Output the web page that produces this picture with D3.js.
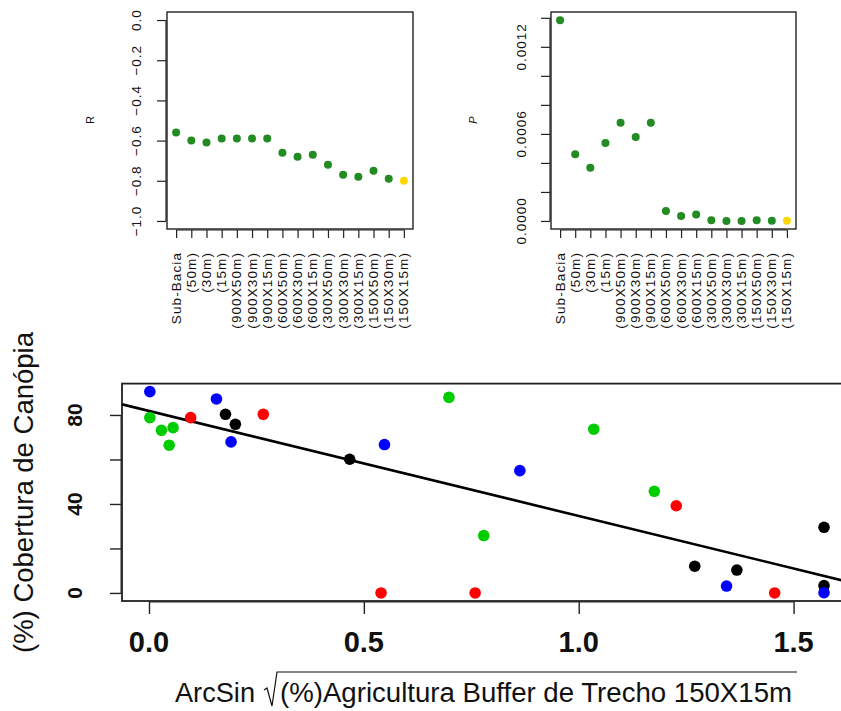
<!DOCTYPE html>
<html><head><meta charset="utf-8">
<script src="https://cdn.jsdelivr.net/npm/d3@7"></script>
<style>body{margin:0;background:#fff}svg{display:block;font-family:"Liberation Sans",Arial,sans-serif}</style>
</head><body><svg id="c" width="841" height="711"></svg>
<script>
const scaleLabels = ["Sub-Bacia","(50m)","(30m)","(15m)","(900X50m)","(900X30m)","(900X15m)","(600X50m)","(600X30m)","(600X15m)","(300X50m)","(300X30m)","(300X15m)","(150X50m)","(150X30m)","(150X15m)"];
const rValues = [-0.56,-0.60,-0.61,-0.59,-0.59,-0.59,-0.59,-0.66,-0.68,-0.67,-0.72,-0.77,-0.78,-0.75,-0.79,-0.80];
const pValues = [0.001384,0.00046,0.000366,0.000538,0.000676,0.000579,0.000676,0.000069,0.000034,0.000044,0.000005,0.0000005,0.0000005,0.000005,0.000001,0.000001];
const rTicks = [0.0,-0.2,-0.4,-0.6,-0.8,-1.0];
const pTicks = [0,0.0002,0.0004,0.0006,0.0008,0.0010,0.0012,0.0014];
const pTickLabels = [0,0.0006,0.0012];
// scatter: x = ArcSin sqrt(agri), y = canopy cover, group colour
const scatterX = [0.002,0.157,0.178,0.201,0.191,0.266,0.097,0.002,0.029,0.056,0.047,0.467,0.548,0.540,0.698,1.035,0.863,1.176,1.227,0.779,1.5708,1.270,1.368,1.344,0.759,1.456,1.5708,1.5708];
const scatterY = [90.5,87.2,80.3,75.8,67.9,80.3,78.8,78.8,73.1,74.3,66.4,60.1,66.7,0,87.9,73.6,55.0,45.7,39.2,25.8,29.5,12.0,10.3,3.1,0,0,3.3,0.1];
const scatterGroup = ["blue","blue","black","black","blue","red","red","green","green","green","green","black","blue","red","green","green","blue","green","red","green","black","black","black","blue","red","red","black","blue"];
const fitIntercept = 81.8, fitSlope = -47.2;
const xTicks = [0,0.5,1.0,1.5];
const yTicks = [0,20,40,60,80];
const yTickLabels = [0,40,80];
const groupColor = {blue:"#0000FF",red:"#FF0000",green:"#00CD00",black:"#000000"};

const svg = d3.select("#c");

function topPanel(x0, x1, values, yDomain, ticks, tickLabels, fmt, ylab, ylabX, italic, labX){
  const top=12,bottom=229;
  const x = d3.scaleLinear().domain([0.4,16.6]).range([x0,x1]);
  const y = d3.scaleLinear().domain(yDomain).range([bottom,top]);
  const g = svg.append("g");
  const ya = d3.axisLeft(y).tickValues(ticks).tickSize(9).tickFormat("");
  const gy = g.append("g").attr("transform",`translate(${x0-1},0)`).call(ya);
  gy.select(".domain").remove();
  gy.selectAll(".tick line").attr("stroke","#222").attr("stroke-width",1.2);
  g.append("line").attr("x1",x0-1).attr("x2",x0-1).attr("y1",y(d3.min(ticks))).attr("y2",y(d3.max(ticks))).attr("stroke","#222").attr("stroke-width",1.2);
  tickLabels.forEach(v=>{
    g.append("text").attr("transform",`translate(${labX},${y(v)}) rotate(-90)`)
     .attr("text-anchor","middle").attr("dominant-baseline","central")
     .attr("font-size",13.5).attr("letter-spacing",1).attr("fill","#111").text(fmt(v).replace("-","\u2212"));
  });
  const xa = d3.axisBottom(x).tickValues(d3.range(1,17)).tickSize(8).tickFormat("");
  const gx = g.append("g").attr("transform",`translate(0,${bottom+1})`).call(xa);
  gx.select(".domain").remove();
  gx.selectAll(".tick line").attr("stroke","#222").attr("stroke-width",1.2);
  g.append("line").attr("x1",x(1)).attr("x2",x(16)).attr("y1",bottom+1).attr("y2",bottom+1).attr("stroke","#222").attr("stroke-width",1.2);
  scaleLabels.forEach((s,i)=>{
    g.append("text").attr("transform",`translate(${x(i+1)},252) rotate(-90)`)
     .attr("text-anchor","end").attr("dominant-baseline","central")
     .attr("font-size",13.5).attr("letter-spacing",1.1).attr("fill","#111").text(s);
  });
  g.append("rect").attr("x",x0).attr("y",top).attr("width",x1-x0).attr("height",bottom-top)
   .attr("fill","none").attr("stroke","#222").attr("stroke-width",1.4);
  g.selectAll("circle.pt").data(values).join("circle").attr("class","pt")
   .attr("cx",(d,i)=>x(i+1)).attr("cy",d=>y(d)).attr("r",4)
   .attr("fill",(d,i)=>i===values.length-1?"#FFD700":"#228B22");
  g.append("text").attr("transform",`translate(${ylabX},120) rotate(-90)`)
   .attr("text-anchor","middle").attr("dominant-baseline","central")
   .attr("font-size",11).attr("font-style",italic?"italic":"normal").attr("fill","#111").text(ylab);
}
topPanel(167,413,rValues,[-1.04,0.04],rTicks,rTicks,d3.format(".1f"),"R",90,false,136);
topPanel(551,796,pValues,[-0.0000554,0.00144],pTicks,pTickLabels,d3.format(".4f"),"P",473,true,521);

// bottom scatter
const L=122,R=851,T=383.6,B=601;
const sx = d3.scaleLinear().domain([-0.0628,1.6336]).range([L,R]);
const sy = d3.scaleLinear().domain([-3.62,94.1]).range([B,T]);
const bg = svg.append("g");
const xa = d3.axisBottom(sx).tickValues(xTicks).tickSize(12).tickFormat("");
const gx = bg.append("g").attr("transform",`translate(0,${B+1})`).call(xa);
gx.select(".domain").remove(); gx.selectAll(".tick line").attr("stroke","#222").attr("stroke-width",1.4);
bg.append("line").attr("x1",sx(0)).attr("x2",sx(1.5)).attr("y1",B+1).attr("y2",B+1).attr("stroke","#222");
xTicks.forEach(v=>{
  bg.append("text").attr("x",sx(v)).attr("y",652).attr("text-anchor","middle")
   .attr("font-size",29).attr("font-weight","bold").attr("fill","#111").text(d3.format(".1f")(v));
});
const ya = d3.axisLeft(sy).tickValues(yTicks).tickSize(11).tickFormat("");
const gy = bg.append("g").attr("transform",`translate(${L-1},0)`).call(ya);
gy.select(".domain").remove(); gy.selectAll(".tick line").attr("stroke","#222").attr("stroke-width",1.4);
bg.append("line").attr("x1",L-1).attr("x2",L-1).attr("y1",sy(0)).attr("y2",sy(80)).attr("stroke","#222");
yTickLabels.forEach(v=>{
  bg.append("text").attr("transform",`translate(82,${sy(v)}) rotate(-90)`).attr("text-anchor","middle")
   .attr("font-size",21).attr("font-weight","bold").attr("fill","#111").text(v);
});
bg.append("rect").attr("x",L).attr("y",T).attr("width",R-L).attr("height",B-T)
  .attr("fill","none").attr("stroke","#222").attr("stroke-width",1.8);
svg.append("clipPath").attr("id","pc").append("rect").attr("x",L).attr("y",T).attr("width",R-L).attr("height",B-T);
bg.append("line").attr("clip-path","url(#pc)")
  .attr("x1",sx(-0.0628)).attr("y1",sy(fitIntercept+fitSlope*-0.0628))
  .attr("x2",sx(1.6336)).attr("y2",sy(fitIntercept+fitSlope*1.6336))
  .attr("stroke","#000").attr("stroke-width",2.6);
bg.selectAll("circle.sp").data(scatterX).join("circle").attr("class","sp")
  .attr("cx",d=>sx(d)).attr("cy",(d,i)=>sy(scatterY[i])).attr("r",5.8)
  .attr("fill",(d,i)=>groupColor[scatterGroup[i]]);
// axis titles
bg.append("text").attr("transform","translate(33,492.5) rotate(-90)").attr("text-anchor","middle")
  .attr("font-size",27).attr("fill","#111").attr("textLength",321).attr("lengthAdjust","spacingAndGlyphs")
  .text("(%) Cobertura de Canópia");
bg.append("text").attr("x",175).attr("y",702).attr("font-size",27).attr("fill","#111")
  .attr("textLength",80).attr("lengthAdjust","spacingAndGlyphs").text("ArcSin");
bg.append("text").attr("x",280).attr("y",702).attr("font-size",27).attr("fill","#111")
  .attr("textLength",512).attr("lengthAdjust","spacingAndGlyphs").text("(%)Agricultura Buffer de Trecho 150X15m");
bg.append("path").attr("d","M264,690 L267,688 L272,706 L277,672 L797,672").attr("fill","none").attr("stroke","#111").attr("stroke-width",1.2);
</script></body></html>
